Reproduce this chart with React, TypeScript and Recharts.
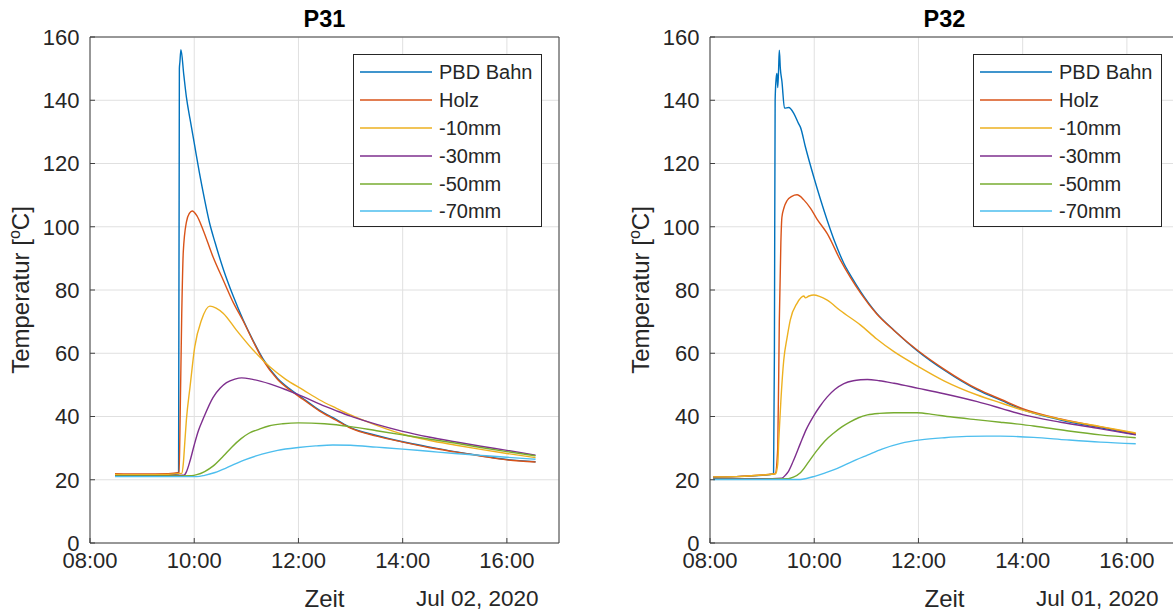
import { CartesianGrid, Label, Legend, Line, LineChart, XAxis, YAxis } from "recharts";

const FONT = '"Liberation Sans", Arial, Helvetica, sans-serif';
const INK = "#262626";

type Pt = [number, number];

// time in hours of the day, temperature in °C
const hourTicks = [8, 10, 12, 14, 16];
const hourLabels = ["08:00", "10:00", "12:00", "14:00", "16:00"];
const tempTicks = [0, 20, 40, 60, 80, 100, 120, 140, 160];

const seriesNames = ["PBD Bahn", "Holz", "-10mm", "-30mm", "-50mm", "-70mm"];
const seriesColors = ["#0072BD", "#D95319", "#EDB120", "#7E2F8E", "#77AC30", "#4DBEEE"];

// P31, Jul 02 2020
const p31Bahn: Pt[] = [
  [8.48, 21.6], [9.0, 21.5], [9.5, 21.6], [9.7, 21.9], [9.715, 150], [9.725, 152], [9.745, 156],
  [9.8, 148], [9.85, 141], [9.92, 134], [10.0, 126.5], [10.1, 117], [10.2, 108.5], [10.29, 101.5],
  [10.4, 95], [10.56, 86.5], [10.75, 78], [10.94, 70.5], [11.13, 64], [11.32, 58.2], [11.6, 52],
  [11.85, 48.5], [12.09, 45.7], [12.4, 42], [12.73, 39], [13.0, 36.5], [13.5, 34], [14.0, 32],
  [14.5, 30.4], [15.0, 28.9], [15.5, 27.6], [16.0, 26.4], [16.55, 25.7],
];
const p31Holz: Pt[] = [
  [8.48, 21.9], [9.0, 21.8], [9.5, 21.9], [9.71, 22.3], [9.73, 40], [9.76, 72], [9.79, 92],
  [9.85, 101.5], [9.91, 104.3], [9.96, 105], [10.05, 103.5], [10.17, 99], [10.36, 90.5],
  [10.56, 83], [10.75, 76], [10.94, 70.2], [11.13, 63.8], [11.32, 57.8], [11.6, 51.7],
  [11.85, 48.2], [12.09, 45.4], [12.4, 41.8], [12.73, 38.8], [13.0, 36.3], [13.5, 33.8],
  [14.0, 31.9], [14.5, 30.2], [15.0, 28.8], [15.5, 27.5], [16.0, 26.3], [16.55, 25.6],
];
const p31m10: Pt[] = [
  [8.48, 21.7], [9.0, 21.6], [9.5, 21.7], [9.76, 22], [9.79, 25], [9.82, 32], [9.85, 39],
  [9.92, 49.4], [10.01, 62], [10.14, 70.5], [10.3, 74.9], [10.42, 74.3], [10.56, 72.6],
  [10.81, 67.3], [11.13, 61], [11.45, 55.7], [11.75, 51.8], [12.09, 48.4], [12.4, 45.3],
  [12.73, 42.6], [13.0, 40.5], [13.5, 37.2], [14.0, 34.4], [14.5, 32.5], [15.0, 31],
  [15.5, 29.6], [16.0, 28.3], [16.55, 27],
];
const p31m30: Pt[] = [
  [8.48, 21.3], [9.0, 21.3], [9.5, 21.3], [9.8, 21.4], [9.85, 22.5], [9.92, 26], [10.0, 31],
  [10.08, 35.5], [10.17, 39.2], [10.36, 46], [10.5, 49], [10.62, 50.7], [10.78, 51.8],
  [10.91, 52.2], [11.1, 51.8], [11.45, 50.3], [11.8, 48.2], [12.09, 46.3], [12.4, 44],
  [12.73, 41.8], [13.0, 40.1], [13.5, 37.5], [14.0, 35.3], [14.5, 33.5], [15.0, 32],
  [15.5, 30.6], [16.0, 29.3], [16.55, 27.8],
];
const p31m50: Pt[] = [
  [8.48, 21.2], [9.5, 21.2], [9.95, 21.3], [10.05, 21.6], [10.2, 22.6], [10.36, 24.3],
  [10.56, 27.5], [10.72, 30.3], [10.9, 33], [11.05, 34.7], [11.25, 36], [11.43, 37],
  [11.7, 37.7], [12.0, 38], [12.5, 37.7], [13.0, 36.8], [13.5, 35.5], [14.0, 34.2],
  [14.5, 32.9], [15.0, 31.6], [15.5, 30.2], [16.0, 28.9], [16.55, 27.6],
];
const p31m70: Pt[] = [
  [8.48, 21.0], [9.5, 21.0], [10.05, 21.0], [10.2, 21.4], [10.4, 22.3], [10.6, 23.6],
  [10.8, 25.1], [10.97, 26.3], [11.3, 28.1], [11.6, 29.3], [12.0, 30.2], [12.33, 30.7],
  [12.66, 31], [13.0, 30.9], [13.5, 30.3], [14.0, 29.7], [14.5, 29], [15.0, 28.3],
  [15.5, 27.7], [16.0, 27.1], [16.55, 26.5],
];

// P32, Jul 01 2020
const p32Bahn: Pt[] = [
  [8.06, 20.8], [8.5, 21.0], [9.0, 21.4], [9.22, 21.8], [9.236, 60], [9.25, 140], [9.27, 147],
  [9.285, 148.5], [9.3, 144], [9.315, 149], [9.33, 155.8], [9.35, 150], [9.38, 146],
  [9.43, 137.5], [9.51, 137.7], [9.61, 135.8], [9.7, 132.6], [9.735, 131.5], [9.83, 125.3],
  [9.99, 115.8], [10.25, 102], [10.4, 95], [10.57, 88.4], [10.72, 84], [10.89, 79.5],
  [11.2, 72.6], [11.53, 67.3], [12.0, 60.5], [12.49, 54.7], [13.13, 48.4], [13.6, 45],
  [14.0, 42.2], [14.73, 38.9], [15.5, 36.4], [16.17, 34.3],
];
const p32Holz: Pt[] = [
  [8.06, 20.9], [8.5, 21.0], [9.0, 21.5], [9.25, 21.9], [9.3, 30], [9.33, 70], [9.36, 95],
  [9.38, 103], [9.42, 106], [9.48, 108.3], [9.57, 109.6], [9.67, 110.1], [9.8, 108.5],
  [9.93, 105.8], [10.05, 102.5], [10.25, 97.8], [10.5, 89.5], [10.7, 83.8], [10.89, 79],
  [11.2, 72.4], [11.53, 67.2], [12.0, 60.7], [12.49, 55], [13.13, 48.7], [13.6, 45.3],
  [14.0, 42.5], [14.73, 39.2], [15.5, 36.7], [16.17, 34.6],
];
const p32m10: Pt[] = [
  [8.06, 20.9], [8.5, 21.0], [9.0, 21.5], [9.26, 21.9], [9.3, 25], [9.32, 32.6], [9.36, 45],
  [9.415, 57.8], [9.48, 65], [9.54, 70.5], [9.67, 75.8], [9.8, 78.1], [9.83, 77.5],
  [9.9, 78.1], [9.99, 78.4], [10.1, 78], [10.25, 76.8], [10.5, 73.5], [10.89, 68.9],
  [11.2, 64.5], [11.53, 60.5], [12.0, 55.8], [12.49, 51.3], [13.13, 46.8], [13.6, 44.2],
  [14.0, 42], [14.73, 39.1], [15.5, 36.8], [16.17, 34.8],
];
const p32m30: Pt[] = [
  [8.06, 20.3], [9.0, 20.3], [9.38, 20.5], [9.45, 21.5], [9.5, 22.5], [9.6, 26], [9.735, 31.5],
  [9.85, 36], [9.99, 40.2], [10.1, 43], [10.25, 46.2], [10.4, 48.6], [10.57, 50.4],
  [10.75, 51.3], [10.89, 51.6], [11.02, 51.7], [11.25, 51.3], [11.53, 50.5], [12.0, 48.9],
  [12.49, 47.2], [13.13, 44.7], [13.6, 42.5], [14.0, 40.6], [14.73, 38.2], [15.5, 36.1],
  [16.17, 34.2],
];
const p32m50: Pt[] = [
  [8.06, 20.2], [9.0, 20.2], [9.5, 20.3], [9.6, 20.8], [9.735, 22.2], [9.9, 25.8],
  [10.05, 29.2], [10.2, 32.2], [10.37, 34.7], [10.53, 36.7], [10.69, 38.3], [10.85, 39.6],
  [11.02, 40.5], [11.25, 41], [11.53, 41.2], [11.97, 41.2], [12.3, 40.6], [12.61, 39.9],
  [13.1, 39], [13.57, 38.2], [14.21, 37], [14.85, 35.5], [15.49, 34.2], [16.17, 33.3],
];
const p32m70: Pt[] = [
  [8.06, 20.1], [9.0, 20.1], [9.735, 20.1], [9.85, 20.4], [9.99, 21], [10.2, 22.1],
  [10.37, 23.1], [10.6, 24.8], [10.8, 26.3], [11.02, 27.8], [11.3, 29.7], [11.66, 31.5],
  [12.04, 32.6], [12.5, 33.3], [12.93, 33.7], [13.3, 33.8], [13.57, 33.8], [14.21, 33.4],
  [14.85, 32.6], [15.49, 31.9], [16.17, 31.4],
];

const toRows = (pts: Pt[]) => pts.map(([t, v]) => ({ t, v }));
const hourLabel = (v: number) => hourLabels[hourTicks.indexOf(v)] ?? "";

// legend rows in plot order, matching the MATLAB legend
const LegendBox = () => (
  <div
    style={{
      boxSizing: "border-box",
      width: 189,
      height: 173,
      border: `1px solid ${INK}`,
      background: "#fff",
      paddingTop: 3,
      fontFamily: FONT,
    }}
  >
    {seriesNames.map((name, i) => (
      <div key={name} style={{ display: "flex", alignItems: "center", height: 27.9 }}>
        <svg width={78} height={6} style={{ display: "block" }}>
          <line x1={6} x2={78} y1={3} y2={3} stroke={seriesColors[i]} strokeWidth={1.4} />
        </svg>
        <span style={{ marginLeft: 7, fontSize: 20, color: INK, lineHeight: 1 }}>{name}</span>
      </div>
    ))}
  </div>
);

function Panel({
  title,
  date,
  series,
  left,
  width,
  marginLeft,
}: {
  title: string;
  date: string;
  series: Pt[][];
  left: number;
  width: number;
  marginLeft: number;
}) {
  const marginRight = 40;
  return (
    <div style={{ position: "absolute", left, top: 0, fontFamily: FONT }}>
      <LineChart
        width={width}
        height={614}
        margin={{ top: 36, right: marginRight, bottom: 41, left: marginLeft }}
        style={{ fontFamily: FONT }}
      >
        <CartesianGrid stroke="#e0e0e0" strokeWidth={1} />
        <XAxis
          dataKey="t"
          type="number"
          domain={[8, 17]}
          allowDataOverflow
          ticks={hourTicks}
          tickFormatter={hourLabel}
          height={30}
          tickSize={-5}
          tickMargin={14}
          interval={0}
          stroke="#404040"
          tick={{ fontSize: 22, fill: INK, fontFamily: FONT }}
        >
          <Label
            content={(p: any) => {
              const vb = p.viewBox;
              return (
                <g>
                  <text x={vb.x + vb.width / 2} y={vb.y + 64} textAnchor="middle" fontSize={24} fill={INK} fontFamily={FONT}>
                    Zeit
                  </text>
                  <text x={vb.x + vb.width - 20.5} y={vb.y + 62.5} textAnchor="end" fontSize={22.5} fill={INK} fontFamily={FONT}>
                    {date}
                  </text>
                </g>
              );
            }}
          />
        </XAxis>
        <XAxis
          xAxisId="top"
          orientation="top"
          type="number"
          domain={[8, 17]}
          allowDataOverflow
          ticks={hourTicks}
          height={1}
          tick={false}
          tickSize={-5}
          stroke="#404040"
        >
          <Label
            content={(p: any) => {
              const vb = p.viewBox;
              return (
                <text x={vb.x + vb.width / 2} y={vb.y - 9.3} textAnchor="middle" fontSize={23.5} fontWeight="bold" fill="#000" fontFamily={FONT}>
                  {title}
                </text>
              );
            }}
          />
        </XAxis>
        <YAxis
          type="number"
          domain={[0, 160]}
          ticks={tempTicks}
          width={60}
          tickSize={-5}
          tickMargin={15.5}
          interval={0}
          stroke="#404040"
          tick={{ fontSize: 22, fill: INK, fontFamily: FONT }}
        >
          <Label
            content={(p: any) => {
              const vb = p.viewBox;
              const bx = vb.x + vb.width - 61.5;
              const cy = vb.y + vb.height / 2;
              return (
                <text x={bx} y={cy} transform={`rotate(-90 ${bx} ${cy})`} textAnchor="middle" fontSize={24} fill={INK} fontFamily={FONT}>
                  Temperatur [<tspan dy={-9} fontSize={16}>o</tspan>
                  <tspan dy={9}>C]</tspan>
                </text>
              );
            }}
          />
        </YAxis>
        <YAxis
          yAxisId="right"
          orientation="right"
          type="number"
          domain={[0, 160]}
          ticks={tempTicks}
          width={1}
          tick={false}
          tickSize={-5}
          stroke="#404040"
        />
        {series.map((pts, i) => (
          <Line
            key={seriesNames[i]}
            data={toRows(pts)}
            dataKey="v"
            name={seriesNames[i]}
            type="monotone"
            stroke={seriesColors[i]}
            strokeWidth={1.4}
            dot={false}
            activeDot={false}
            isAnimationActive={false}
          />
        ))}
        <Legend
          layout="horizontal"
          verticalAlign="middle"
          align="center"
          content={<LegendBox />}
          wrapperStyle={{
            left: width - marginRight - 1 - 206,
            top: 54,
            right: "auto",
            bottom: "auto",
            width: "auto",
            height: "auto",
          }}
        />
      </LineChart>
    </div>
  );
}

export default function App() {
  return (
    <div
      style={{
        position: "absolute",
        left: 0,
        top: 0,
        width: 1173,
        height: 614,
        overflow: "hidden",
        background: "#fff",
      }}
    >
      <Panel
        title="P31"
        date="Jul 02, 2020"
        series={[p31Bahn, p31Holz, p31m10, p31m30, p31m50, p31m70]}
        left={0}
        width={600}
        marginLeft={30}
      />
      <Panel
        title="P32"
        date="Jul 01, 2020"
        series={[p32Bahn, p32Holz, p32m10, p32m30, p32m50, p32m70]}
        left={600}
        width={620}
        marginLeft={50}
      />
    </div>
  );
}
